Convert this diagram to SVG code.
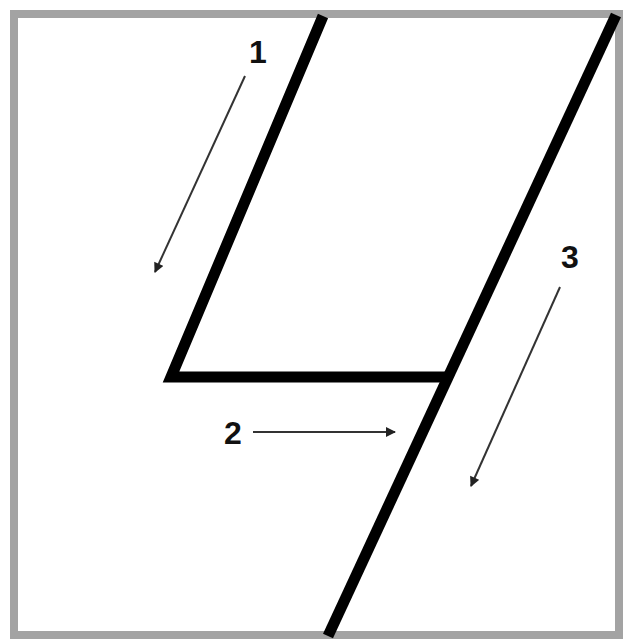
<svg xmlns="http://www.w3.org/2000/svg" width="623" height="641" viewBox="0 0 623 641">
<style>
.frame{fill:#fff;stroke:#a3a3a3;stroke-width:8}
.bar{fill:none;stroke:#000;stroke-width:11;stroke-linejoin:miter;stroke-linecap:butt}
.arr{fill:none;stroke:#333;stroke-width:2}
.lbl{font-family:"Liberation Sans",Arial,sans-serif;font-weight:bold;font-size:32px;fill:#111;text-anchor:middle}
</style>
<defs>
<marker id="ah" viewBox="0 0 10 10" refX="9" refY="5" markerWidth="11" markerHeight="10" markerUnits="userSpaceOnUse" orient="auto">
<path d="M0,0 L10,5 L0,10 Z" fill="#222"/>
</marker>
</defs>
<rect class="frame" x="14" y="14" width="605" height="621"/>
<g id="shape">
<polyline id="bar1" class="bar" points="323,16 171,377 448,377"/>
<line id="bar3" class="bar" x1="616" y1="15" x2="328" y2="636"/>
</g>
<g id="connectors">
<line class="arr" x1="245" y1="76" x2="155" y2="272" marker-end="url(#ah)"/>
<line class="arr" x1="253" y1="432" x2="395" y2="432" marker-end="url(#ah)"/>
<line class="arr" x1="560" y1="287" x2="471" y2="486" marker-end="url(#ah)"/>
</g>
<g id="label1"><text class="lbl" x="258" y="63">1</text></g>
<g id="label2"><text class="lbl" x="233" y="444">2</text></g>
<g id="label3"><text class="lbl" x="570" y="268">3</text></g>
</svg>
